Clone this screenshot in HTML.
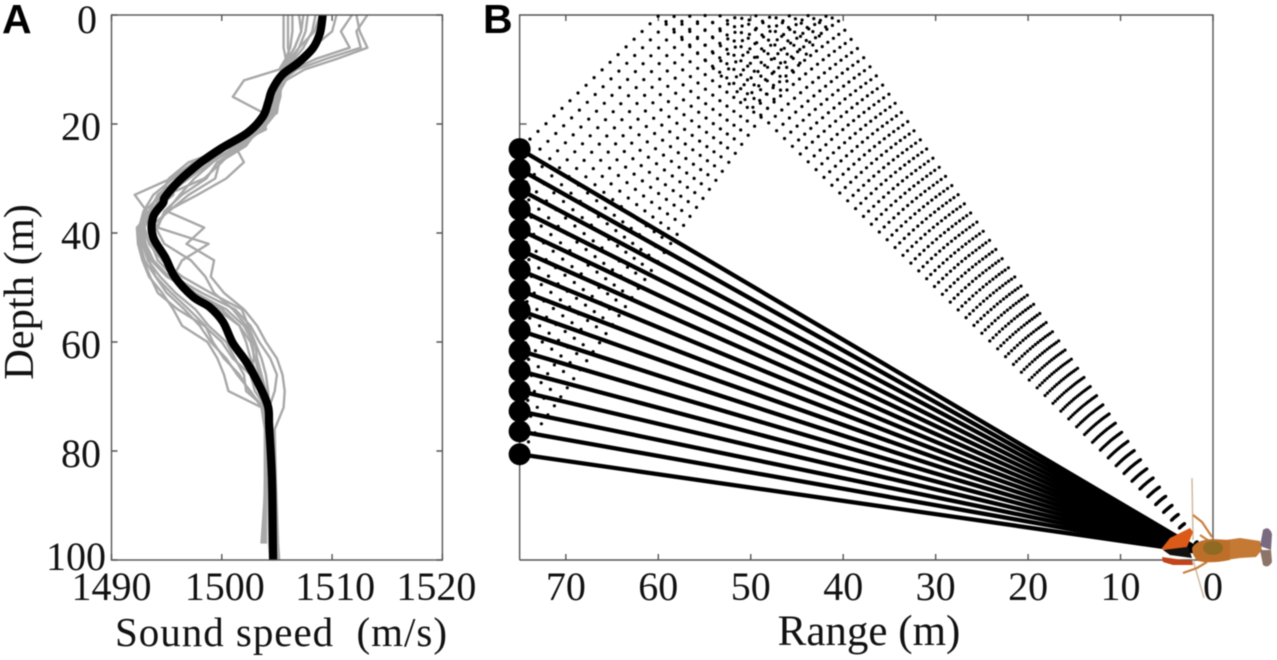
<!DOCTYPE html>
<html lang="en">
<head>
<meta charset="utf-8">
<title>Sound speed profile and ray paths</title>
<style>
html,body{margin:0;padding:0;background:#fff;}
body{width:1277px;height:660px;overflow:hidden;}
svg{display:block;filter:blur(0.45px);}
text{font-family:"Liberation Serif",serif;fill:#111;}
.panel{font-family:"Liberation Sans",sans-serif;font-weight:700;font-size:41px;fill:#000;}
</style>
</head>
<body>
<svg id="chart" width="1277" height="660" viewBox="0 0 1277 660" xmlns="http://www.w3.org/2000/svg">
<rect width="1277" height="660" fill="#fff"/>
<text class="panel" x="2" y="33">A</text>
<text class="panel" x="483" y="33">B</text>
<g id="panelA"></g>
<g id="panelB"></g>
<text transform="translate(33,292) rotate(-90)" text-anchor="middle" font-size="42.5">Depth (m)</text>
<text x="115" y="646" font-size="41" textLength="332" xml:space="preserve">Sound speed  (m/s)</text>
<text x="869" y="645" text-anchor="middle" font-size="43">Range (m)</text>
<g id="crayfish">
<g fill="none" stroke="#cdbb9f" stroke-width="1.5">
<path d="M1192 478L1193 540"/>
<path d="M1193 560L1204 598"/>
</g>
<g fill="none" stroke="#c8803e" stroke-width="2.2">
<path d="M1193 515L1202 522L1212 537M1200 535L1209 541"/>
<path d="M1183 573L1197 568L1207 562"/>
</g>
<path d="M1163 550L1188 546L1192 558L1170 555Z" fill="#111"/>
<path d="M1162 557L1183 560L1192 560L1193 565L1173 565L1163 562Z" fill="#c1441a"/>
<path d="M1162 548L1170 538L1190 528L1193 532L1187 547L1163 550Z" fill="#dc5a17"/>
<path d="M1226 540L1240 538L1260 541L1262 550L1256 557L1240 558L1226 560Z" fill="#c47a34"/>
<path d="M1192 548Q1196 540 1212 539L1230 540L1230 560Q1210 564 1198 561Q1192 556 1192 548Z" fill="#bd6f2a"/>
<ellipse cx="1213" cy="548" rx="10" ry="7" fill="#8f6a22"/>
<path d="M1260 546L1263 530Q1269 525 1272 534L1271 550Z" fill="#7a6a80"/>
<path d="M1260 550L1271 550L1272 562Q1268 569 1263 565Z" fill="#8c7468"/>
</g>
</svg>
<script>
// Panel A data
const depthTicks = [0, 20, 40, 60, 80, 100];
const speedTicks = [1490, 1500, 1510, 1520];
const rangeTicks = [70, 60, 50, 40, 30, 20, 10, 0];
const profileDepths = [0,3,6,8,10,12,15,18,21,24,27,30,33,36,39,42,45,48,51,54,57,60,63,66,69,72,76,85,97,100];
const profileA = [1512.2,1512.5,1513.2,1510.5,1507.5,1505.8,1505.0,1504.6,1503.8,1501.2,1499.2,1497.5,1496.2,1495.0,1494.0,1494.8,1497.2,1498.5,1499.3,1501.0,1502.2,1503.0,1503.6,1504.0,1504.2,1504.3,1504.3,1504.5,1504.6,1504.7];
const profileB = [1513.2,1512.2,1512.6,1509.5,1506.8,1505.5,1505.2,1505.0,1502.4,1501.2,1502.0,1500.4,1497.8,1495.0,1498.4,1496.8,1499.3,1499.0,1500.2,1502.0,1503.2,1504.0,1505.0,1505.5,1505.7,1505.6,1504.8,1504.9,1505.1,1505.2];
const profileC = [1505.6,1505.6,1505.6,1505.8,1505.2,1502.0,1501.0,1503.8,1504.0,1501.0,1497.0,1495.2,1494.5,1493.0,1492.6,1492.8,1493.4,1494.0,1495.4,1497.0,1498.5,1499.2,1500.2,1501.6,1502.5,1503.8,1504.0,1504.0,1504.0,null];
const profileD = [1506.0,1506.0,1506.0,1506.2,1505.6,1505.0,1504.8,1504.0,1503.0,1500.6,1497.5,1495.4,1492.1,1493.2,1492.4,1492.6,1493.0,1494.0,1495.0,1496.6,1498.0,1499.0,1500.4,1501.4,1502.6,1503.6,1503.9,1503.9,1503.8,null];
const profileE = [1507.0,1507.2,1506.6,1506.0,1505.4,1505.2,1504.6,1504.4,1503.2,1502.0,1499.6,1498.6,1496.4,1494.8,1494.2,1498.8,1496.4,1495.6,1497.6,1500.0,1501.6,1502.6,1503.0,1503.4,1503.8,1504.2,1504.4,1504.6,1504.7,1504.8];
const profileF = [1507.8,1507.6,1507.0,1506.4,1505.6,1505.0,1504.9,1504.5,1503.4,1501.6,1498.6,1495.6,1493.8,1492.9,1492.5,1492.6,1492.9,1493.5,1494.2,1496.0,1498.4,1500.0,1501.0,1502.6,1503.0,1504.0,1504.1,1504.2,1504.3,1504.4];
const profileG = [1508.5,1508.2,1507.4,1506.6,1505.8,1505.3,1504.8,1504.4,1503.0,1500.8,1498.4,1496.6,1494.6,1493.6,1492.8,1493.0,1493.6,1495.0,1497.6,1500.4,1502.0,1502.8,1502.9,1502.6,1503.6,1504.3,1504.4,1504.7,1504.9,1505.0];
const profileH = [1510.4,1510.0,1508.2,1507.0,1505.8,1505.0,1505.1,1504.8,1503.5,1501.4,1500.0,1498.4,1495.0,1493.6,1493.0,1493.4,1494.6,1496.4,1499.0,1501.8,1502.4,1503.0,1503.2,1503.6,1504.0,1504.4,1504.6,1504.8,1505.0,1505.1];
const profileI = [1511.8,1510.8,1511.6,1508.6,1506.4,1505.4,1505.3,1504.9,1503.7,1501.8,1499.0,1497.0,1495.0,1494.0,1492.9,1493.1,1493.8,1495.2,1497.0,1499.6,1501.6,1502.2,1502.6,1503.2,1503.9,1504.2,1504.5,1504.6,1504.8,1504.9];
const profileJ = [1506.4,1506.4,1506.2,1505.8,1505.6,1505.4,1505.0,1504.3,1502.8,1500.4,1497.6,1495.8,1495.6,1493.8,1492.3,1492.4,1492.8,1493.4,1494.6,1495.6,1496.4,1498.7,1499.6,1500.2,1500.6,1503.6,1504.0,1504.0,1503.6,null];
const profileK = [1507.4,1507.2,1506.6,1506.0,1505.4,1505.1,1504.7,1504.2,1503.1,1501.0,1497.4,1496.0,1494.2,1493.4,1492.6,1492.8,1493.3,1494.4,1495.8,1497.6,1498.8,1500.4,1501.2,1502.0,1502.2,1503.9,1504.2,1504.3,1504.4,null];
const profileL = [1508.9,1508.4,1507.0,1506.2,1505.5,1505.1,1504.9,1504.6,1503.3,1502.2,1499.8,1499.4,1497.0,1495.2,1493.4,1493.6,1494.2,1495.6,1498.2,1501.2,1502.6,1503.4,1504.4,1505.0,1504.8,1504.3,1504.5,1504.7,1504.9,1505.0];
const grayProfiles = [profileA, profileB, profileC, profileD, profileE, profileF, profileG, profileH, profileI, profileJ, profileK, profileL];
const meanDepths = [0,3.3,6.05,8.8,11,13.8,16.1,18.7,21.65,24.4,27.2,30.3,33.4,34.5,37.1,40.7,44.4,48.1,51.7,53.6,56.3,60.2,63.9,68.4,71.9,75.6,85.3,100];
const meanSpeeds = [1509.15,1508.9,1508.27,1506.9,1505.46,1504.55,1504.2,1503.7,1502.3,1500.0,1498.0,1496.2,1494.85,1494.67,1493.76,1493.76,1494.85,1495.76,1497.4,1498.9,1500.1,1501.0,1502.3,1503.5,1504.2,1504.3,1504.55,1504.65];
// Panel B data
const hydrophoneDepths = [24.6,28.3,32,35.7,39.4,43.1,46.8,50.5,54.2,57.9,61.6,65.3,69,72.7,76.4,80.6];
const arrayRange = 75;
const sourceRange = 0.9;
const sourceDepth = 98.7;
const dotSpacingMeters = 1.2;

const NS = 'http://www.w3.org/2000/svg';
function mk(parent, tag, attrs) {
  const el = document.createElementNS(NS, tag);
  for (const k in attrs) el.setAttribute(k, attrs[k]);
  parent.appendChild(el);
  return el;
}
// axis functions
const yDepth = d => 15 + d * 5.45;
const xSpeed = s => 111.5 + (s - 1490) * 11.03;
const xRange = r => 1213 - r * 9.245;
const AXIS = '#555';

const A = document.getElementById('panelA');
const B = document.getElementById('panelB');

function depthLabelY(d) {
  if (d === 100) return yDepth(d) + 10;
  if (d === 0) return yDepth(d) + 18;
  return yDepth(d) + 16;
}

// smooth curve through axis-mapped points
function smoothPath(pts) {
  let d = 'M' + pts[0][0].toFixed(1) + ' ' + pts[0][1].toFixed(1);
  for (let i = 0; i < pts.length - 1; i++) {
    const p0 = pts[Math.max(i - 1, 0)], p1 = pts[i], p2 = pts[i + 1], p3 = pts[Math.min(i + 2, pts.length - 1)];
    const c1x = p1[0] + (p2[0] - p0[0]) / 6, c1y = p1[1] + (p2[1] - p0[1]) / 6;
    const c2x = p2[0] - (p3[0] - p1[0]) / 6, c2y = p2[1] - (p3[1] - p1[1]) / 6;
    d += 'C' + c1x.toFixed(1) + ' ' + c1y.toFixed(1) + ' ' + c2x.toFixed(1) + ' ' + c2y.toFixed(1) + ' ' + p2[0].toFixed(1) + ' ' + p2[1].toFixed(1);
  }
  return d;
}

// Panel A marks
grayProfiles.forEach(function (p) {
  const pts = p.map((s, i) => s === null ? null : xSpeed(s).toFixed(1) + ',' + yDepth(profileDepths[i]).toFixed(1)).filter(Boolean).join(' ');
  const el = mk(A, 'polyline', {points: pts, fill: 'none', stroke: '#a8a8a8', 'stroke-width': 2.4, 'stroke-linejoin': 'round'});
  
  
});
const meanLine = mk(A, 'path', {
  d: smoothPath(meanSpeeds.map((s, i) => [xSpeed(s), yDepth(meanDepths[i])])),
  fill: 'none', stroke: '#000', 'stroke-width': 8.2, 'stroke-linejoin': 'round'
});



const frameA = mk(A, 'rect', {
  x: xSpeed(1490), y: yDepth(0), width: xSpeed(1520) - xSpeed(1490), height: yDepth(100) - yDepth(0),
  fill: 'none', stroke: AXIS, 'stroke-width': 1.4
});



depthTicks.forEach(function (d) {
  const y = yDepth(d);
  const t = mk(A, 'path', {d: 'M' + xSpeed(1490) + ' ' + y + 'h6M' + xSpeed(1520) + ' ' + y + 'h-6', stroke: AXIS, 'stroke-width': 1.4});
  
  
  const l = mk(A, 'text', {x: d === 100 ? 106 : (d === 0 ? 97 : 101), y: depthLabelY(d), 'text-anchor': 'end', 'font-size': 40});
  l.textContent = d;
  
  
});
speedTicks.forEach(function (s) {
  const x = xSpeed(s);
  const t = mk(A, 'path', {d: 'M' + x + ' ' + yDepth(100) + 'v-6M' + x + ' ' + yDepth(0) + 'v6', stroke: AXIS, 'stroke-width': 1.4});
  
  
  const l = mk(A, 'text', {x: x + (s === 1490 ? 0 : (s === 1520 ? -6 : 3)), y: 600, 'text-anchor': 'middle', 'font-size': 40});
  l.textContent = s;
  
  
});

// Panel B axes
const axisB = mk(B, 'path', {
  d: 'M' + xRange(75) + ' ' + yDepth(100) + 'V' + yDepth(0) + 'H' + xRange(0) + 'V' + yDepth(100) + 'H' + xRange(75),
  fill: 'none', stroke: AXIS, 'stroke-width': 1.4
});


rangeTicks.forEach(function (r) {
  const x = xRange(r);
  const t = mk(B, 'path', {d: 'M' + x + ' ' + yDepth(100) + 'v-6M' + x + ' ' + yDepth(0) + 'v6', stroke: AXIS, 'stroke-width': 1.4});
  
  
  const l = mk(B, 'text', {x: x, y: 600, 'text-anchor': 'middle', 'font-size': 40});
  l.textContent = r;
  
  
});
depthTicks.slice(1, 5).forEach(function (d) {
  const t = mk(B, 'path', {d: 'M' + xRange(75) + ' ' + yDepth(d) + 'h7', stroke: AXIS, 'stroke-width': 1.4});
  
  
});

// Surface-reflected rays drawn as dots at equal path length from the source
const pxPerM = 9.245;
hydrophoneDepths.forEach(function (h) {
  const sx = xRange(sourceRange), sy = yDepth(sourceDepth);
  const hx = xRange(arrayRange), hy = yDepth(h);
  const s0 = yDepth(0);
  // surface bounce point, nudged for the slight ray bending seen in the figure
  const rx = hx + (hy - s0) * (sx + 15 - hx) / ((hy - s0) + (sy - s0));
  const leg1 = Math.hypot(sx - rx, sy - s0);
  const leg2 = Math.hypot(hx - rx, hy - s0);
  const step = dotSpacingMeters * pxPerM;
  const g = mk(B, 'g', {fill: '#000'});
  
  
  for (let dist = step * 1.2; dist < leg1 + leg2; dist += step) {
    let x, y;
    if (dist < leg1) {
      x = sx + (rx - sx) * dist / leg1;
      y = sy + (s0 - sy) * dist / leg1;
    } else {
      x = rx + (hx - rx) * (dist - leg1) / leg2;
      y = s0 + (hy - s0) * (dist - leg1) / leg2;
    }
    const c = mk(g, 'circle', {cx: x.toFixed(1), cy: y.toFixed(1), r: 1.6});
    
    
  }
});

// Direct rays
hydrophoneDepths.forEach(function (h) {
  const l = mk(B, 'line', {
    x1: xRange(arrayRange), y1: yDepth(h), x2: xRange(sourceRange), y2: yDepth(sourceDepth),
    stroke: '#000', 'stroke-width': 4.3
  });
  
  
});
// Hydrophones
hydrophoneDepths.forEach(function (h) {
  const c = mk(B, 'circle', {cx: xRange(arrayRange), cy: yDepth(h), r: 11, fill: '#000'});
  
  
});
</script>
</body>
</html>
